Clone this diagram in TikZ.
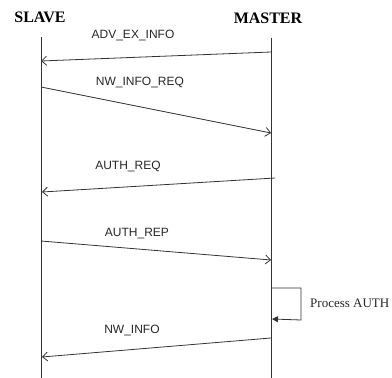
\documentclass[tikz,border=0pt]{standalone}
\usepackage{fontspec}
\setmainfont{Liberation Serif}
\newfontfamily\lblfont{Liberation Sans}
\usetikzlibrary{arrows.meta}
\begin{document}
\begin{tikzpicture}[x=1pt,y=-1pt,
  life/.style={draw=black!80,line width=0.8pt},
  msg/.style={draw=black!80,line width=0.8pt,-{Straight Barb[length=5pt,width=9pt,line width=0.8pt]}},
  selfmsg/.style={draw=black!80,line width=0.8pt,-{Triangle[length=6pt,width=6pt]}},
  head/.style={font=\fontsize{16}{18}\selectfont\bfseries,inner sep=0pt},
  lbl/.style={font=\lblfont\fontsize{12}{14}\selectfont,text=black!85,inner sep=0pt},
  note/.style={font=\fontsize{13}{15}\selectfont,text=black!85,inner sep=0pt,anchor=west}]
\useasboundingbox (0,0) rectangle (392,378);
\node[head] (slave) at (40,17) {SLAVE};
\node[head] (master) at (268,18) {MASTER};
\coordinate (sT) at (41,37); \coordinate (sB) at (41,378);
\coordinate (mT) at (271,38); \coordinate (mB) at (271,378);
\draw[life] (sT) -- (sB);
\draw[life] (mT) -- (mB);
% messages
\coordinate (m1a) at (271,52); \coordinate (s1b) at (41,61);
\draw[msg] (m1a) -- (s1b);
\node[lbl] (l1) at (133,36) {ADV\_EX\_INFO};
\coordinate (s2a) at (41,87); \coordinate (m2b) at (271,133);
\draw[msg] (s2a) -- (m2b);
\node[lbl] (l2) at (140,83) {NW\_INFO\_REQ};
\coordinate (m3a) at (275,178); \coordinate (s3b) at (42,192);
\draw[msg] (m3a) -- (s3b);
\node[lbl] (l3) at (128,167) {AUTH\_REQ};
\coordinate (s4a) at (41,241); \coordinate (m4b) at (271,260);
\draw[msg] (s4a) -- (m4b);
\node[lbl] (l4) at (137,234) {AUTH\_REP};
\coordinate (p1) at (271,288); \coordinate (p2) at (301,288);
\coordinate (p3) at (301,320); \coordinate (p4) at (272,319);
\draw[selfmsg] (p1) -- (p2) -- (p3) -- (p4);
\node[note] (proc) at (310,303) {Process AUTH};
\coordinate (m6a) at (271,338); \coordinate (s6b) at (42,357);
\draw[msg] (m6a) -- (s6b);
\node[lbl] (l6) at (132,331) {NW\_INFO};
\end{tikzpicture}
\end{document}
